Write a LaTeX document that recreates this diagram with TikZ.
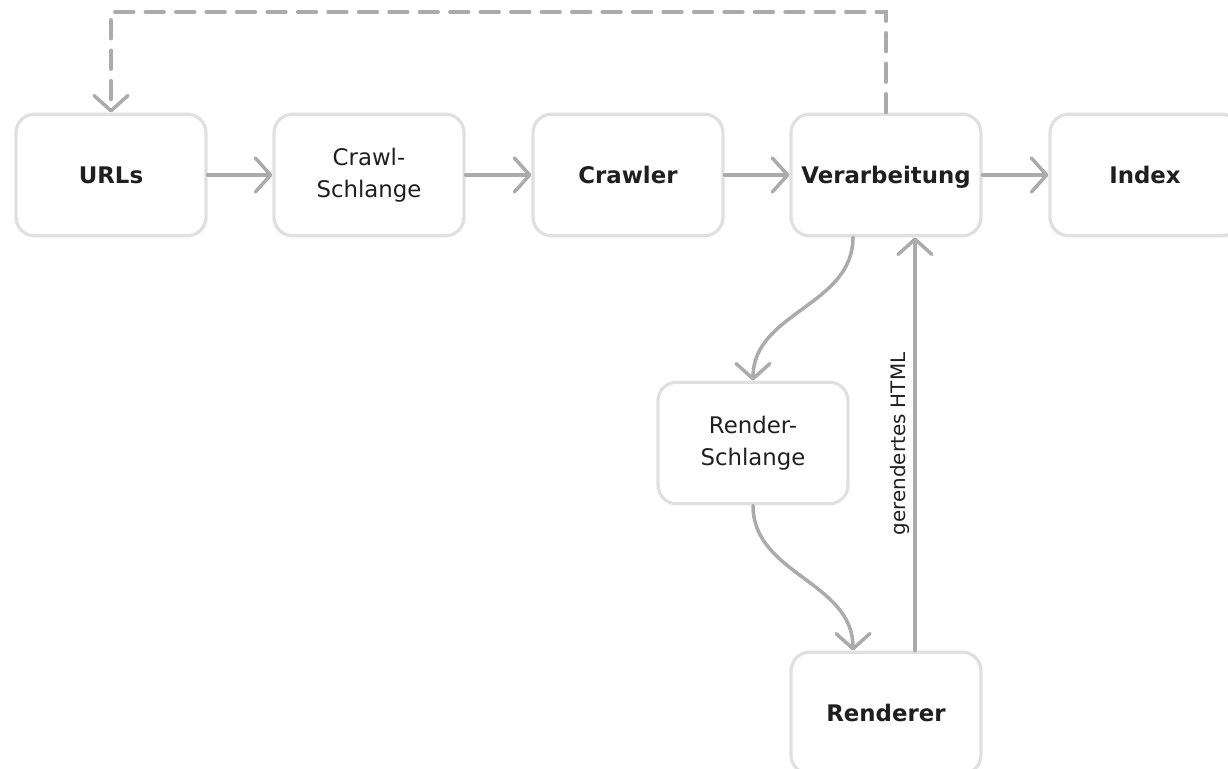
\documentclass[tikz,border=0pt]{standalone}
\usepackage{fontspec}
\setmainfont{DejaVu Sans}
\usetikzlibrary{arrows.meta,positioning}
\definecolor{boxgray}{HTML}{E0E0E0}
\definecolor{flowgray}{HTML}{ABABAB}
\begin{document}
\begin{tikzpicture}[x=0.03cm, y=-0.03cm, >={Straight Barb[length=13pt,width=29pt,line width=3pt,round]}]
\tikzset{tbox/.style={draw=boxgray, line width=2.8pt, rounded corners=16pt, align=center, text=black!88, minimum width=5.7cm, minimum height=3.65cm, font=\fontsize{19.5}{27}\selectfont}}
\tikzset{tboxbold/.style={tbox, font=\fontsize{19.5}{27}\selectfont\bfseries, text height=14.2pt, text depth=0pt}}
\tikzset{flow/.style={draw=flowgray, line width=3pt, line cap=round, ->}}
\useasboundingbox (0,0) rectangle (1228,769);
%% coordinate grid (pixels)
\def \ytop {175}
\def \ymid {443}
\def \ybot {713}

%% main row
\node [tboxbold] (urls) at (111,\ytop) {URLs};
\node [tbox] (crawlqueue) at (369,\ytop) {Crawl-\\Schlange};
\node [tboxbold] (crawler) at (628,\ytop) {Crawler};
\node [tboxbold] (proc) at (886,\ytop) {Verarbeitung};
\node [tboxbold] (index) at (1145,\ytop) {Index};
%% render branch
\node [tbox] (renderqueue) at (753,\ymid) {Render-\\Schlange};
\node [tboxbold] (renderer) at (886,\ybot) {Renderer};
\coordinate (looptop) at (0,12);

% paths
\draw [flow] (urls.east) -- (crawlqueue.west);
\draw [flow] (crawlqueue.east) -- (crawler.west);
\draw [flow] (crawler.east) -- (proc.west);
\draw [flow] (proc.east) -- (index.west);
\draw [flow, dash pattern=on 16pt off 10pt] (proc.north) -- (proc.north |- looptop) -| (urls.north);
\draw [flow] ([xshift=-0.99cm]proc.south) to[out=-90, in=90] (renderqueue.north);
\draw [flow] (renderqueue.south) to[out=-90, in=90] ([xshift=-0.99cm]renderer.north);
\draw [flow] ([xshift=0.87cm]renderer.north) -- node [midway, sloped, above, font=\fontsize{17}{20}\selectfont, text=black!88] {gerendertes HTML} ([xshift=0.87cm]proc.south);
\end{tikzpicture}
\end{document}
